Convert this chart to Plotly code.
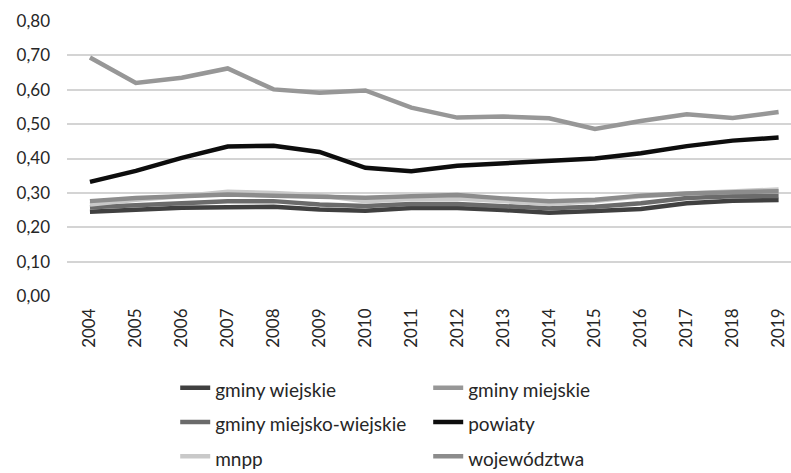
import plotly.graph_objects as go

# Years on the category axis
years = [str(y) for y in range(2004, 2020)]

# Indicator values by type of local government unit
gminy_wiejskie = [0.245, 0.252, 0.257, 0.258, 0.260, 0.252, 0.248, 0.256,
                  0.256, 0.250, 0.242, 0.247, 0.253, 0.270, 0.277, 0.279]
gminy_miejskie = [0.694, 0.620, 0.635, 0.662, 0.601, 0.591, 0.598, 0.548,
                  0.519, 0.522, 0.517, 0.486, 0.509, 0.529, 0.518, 0.535]
gminy_miejsko_wiejskie = [0.258, 0.265, 0.272, 0.276, 0.276, 0.266, 0.262, 0.268,
                          0.268, 0.262, 0.255, 0.260, 0.270, 0.285, 0.290, 0.291]
powiaty = [0.332, 0.364, 0.402, 0.435, 0.437, 0.419, 0.373, 0.363,
           0.379, 0.387, 0.392, 0.400, 0.415, 0.436, 0.452, 0.461]
mnpp = [0.266, 0.280, 0.290, 0.303, 0.300, 0.293, 0.276, 0.282,
        0.284, 0.275, 0.268, 0.276, 0.290, 0.298, 0.305, 0.310]
wojewodztwa = [0.276, 0.285, 0.290, 0.295, 0.292, 0.288, 0.286, 0.290,
               0.294, 0.284, 0.276, 0.280, 0.292, 0.298, 0.302, 0.305]

series = [
    ("gminy wiejskie", gminy_wiejskie, "#404040"),
    ("gminy miejskie", gminy_miejskie, "#979797"),
    ("gminy miejsko-wiejskie", gminy_miejsko_wiejskie, "#6b6b6b"),
    ("powiaty", powiaty, "#0d0d0d"),
    ("mnpp", mnpp, "#c9c9c9"),
    ("województwa", wojewodztwa, "#8c8c8c"),
]

FONT = "Lato, 'Open Sans', sans-serif"

fig = go.Figure()
for name, vals, color in series:
    fig.add_trace(go.Scatter(
        x=years, y=vals, mode="lines", name=f"<span style='font-size:19px'>{name}</span>",
        line=dict(color=color, width=4.5),
    ))

fig.update_layout(
    width=791, height=473,
    margin=dict(l=67, r=0, t=21, b=177),
    paper_bgcolor="white", plot_bgcolor="white",
    separators=", ",
    font=dict(family=FONT, size=17, color="#262626"),
    showlegend=True,
    legend=dict(
        orientation="h",
        xref="container", yref="container",
        x=0.2215, y=0.227, xanchor="left", yanchor="top",
        entrywidth=208, entrywidthmode="pixels",
        font=dict(family=FONT, size=24, color="#262626"),
        itemwidth=30,
    ),
    xaxis=dict(
        type="category", range=[-0.5, 15.27],
        showgrid=False, zeroline=False, showline=False,
        tickangle=-90, ticks="", ticklabelstandoff=8,
        tickfont=dict(size=17, color="#262626"),
    ),
    yaxis=dict(
        range=[0, 0.8], dtick=0.1, tickformat=".2f",
        showgrid=True, gridcolor="#d4d4d4", gridwidth=1.5,
        zeroline=False, showline=False,
        ticks="", ticklabelstandoff=16,
        tickfont=dict(size=17, color="#262626"),
    ),
)

fig.write_html("out.html")
